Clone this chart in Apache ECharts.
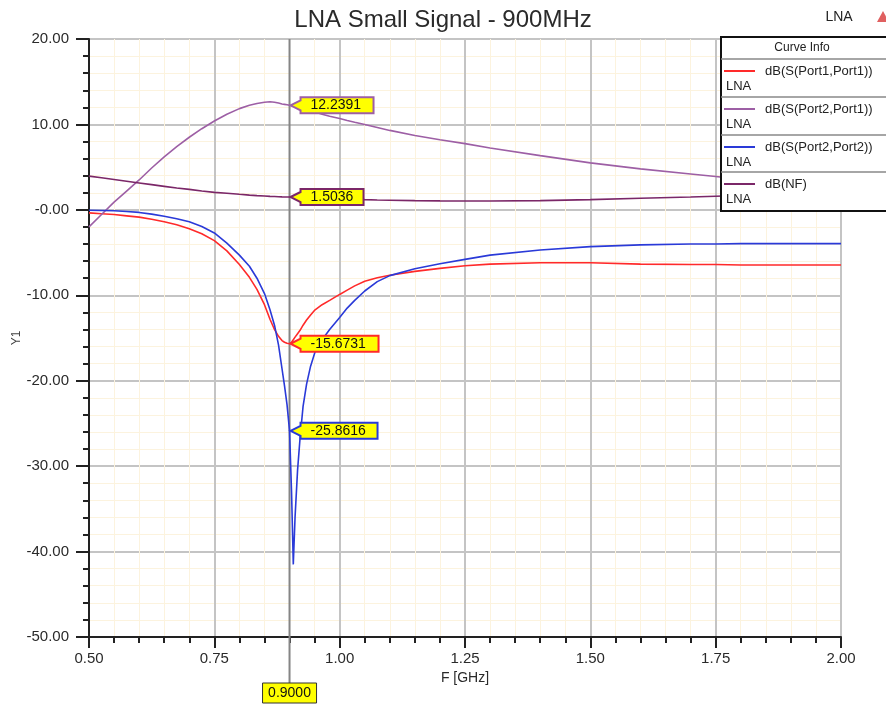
<!DOCTYPE html>
<html><head><meta charset="utf-8">
<script src="https://cdn.jsdelivr.net/npm/echarts@6/dist/echarts.min.js"></script>
<style>html,body{margin:0;padding:0;background:#fff}#c{width:886px;height:705px}</style>
</head><body><div id="c"></div>
<script>
// ---- data ----
const freq = [0.500,0.525,0.550,0.575,0.600,0.625,0.650,0.675,0.700,0.725,0.750,0.775,0.800,0.820,0.835,0.850,0.861,0.870,0.878,0.885,0.890,0.895,0.900,0.904,0.9075,0.911,0.916,0.921,0.927,0.934,0.942,0.951,0.965,0.980,1.000,1.015,1.030,1.050,1.075,1.100,1.150,1.200,1.250,1.300,1.400,1.500,1.600,1.700,1.750,1.800,1.900,2.000];
const s21 = [-2.0,-0.55,0.9,2.2,3.5,4.9,6.2,7.4,8.5,9.5,10.4,11.2,11.85,12.25,12.45,12.6,12.65,12.6,12.5,12.4,12.35,12.3,12.2391,12.2,12.15,12.1,12.02,11.95,11.85,11.75,11.6,11.45,11.2,10.95,10.7,10.45,10.25,10.0,9.65,9.3,8.7,8.2,7.75,7.25,6.35,5.5,4.8,4.2,3.9,3.6,3.1,2.7];
const nf  = [3.95,3.75,3.55,3.35,3.15,2.95,2.75,2.55,2.4,2.2,2.05,1.95,1.82,1.73,1.67,1.62,1.58,1.56,1.54,1.52,1.51,1.505,1.5036,1.5,1.5,1.49,1.48,1.47,1.46,1.45,1.43,1.41,1.38,1.35,1.3,1.27,1.24,1.2,1.16,1.13,1.08,1.05,1.03,1.03,1.08,1.2,1.35,1.5,1.6,1.68,1.8,1.9];
const s11 = [-0.35,-0.45,-0.55,-0.7,-0.85,-1.1,-1.4,-1.75,-2.2,-2.8,-3.6,-4.8,-6.4,-7.9,-9.3,-11.1,-12.8,-14.0,-14.8,-15.3,-15.5,-15.62,-15.6731,-15.5,-15.2,-14.9,-14.5,-14.1,-13.5,-12.9,-12.3,-11.7,-11.1,-10.6,-9.9,-9.4,-8.9,-8.35,-7.95,-7.65,-7.2,-6.85,-6.55,-6.35,-6.2,-6.2,-6.35,-6.4,-6.4,-6.45,-6.45,-6.45];
const s22 = [-0.05,-0.07,-0.1,-0.2,-0.3,-0.5,-0.75,-1.05,-1.4,-1.95,-2.7,-3.9,-5.3,-6.6,-8.0,-9.8,-11.7,-13.5,-15.8,-18.6,-20.6,-22.8,-25.8616,-33.0,-41.5,-36.0,-30.5,-26.7,-23.0,-20.4,-18.3,-16.6,-15.2,-14.0,-12.6,-11.5,-10.6,-9.5,-8.4,-7.7,-6.9,-6.3,-5.8,-5.3,-4.7,-4.3,-4.1,-4.0,-4.0,-3.95,-3.95,-3.95];
const seriesNames = ['dB(S(Port1,Port1))','dB(S(Port2,Port1))','dB(S(Port2,Port2))','dB(NF)'];
const markerFreq = 0.9;
const markerValues = [12.2391, 1.5036, -15.6731, -25.8616];
const markerTexts = ['12.2391','1.5036','-15.6731','-25.8616'];
const markerFreqText = '0.9000';

(function(){
const FONT = '"Liberation Sans", Arial, sans-serif';
const COLORS = {s11:'#ff2a2a', s21:'#9d5fa5', s22:'#2a3ad8', nf:'#7b2768'};
const zip = a => freq.map((f,i)=>[f,a[i]]);

const chart = echarts.init(document.getElementById('c'), null, {renderer:'canvas'});
const lineSeries = (name, data, color) => ({
  name, type:'line', data: zip(data), showSymbol:false, smooth:false,
  lineStyle:{color, width:1.6}, itemStyle:{color}, z:3, silent:true
});
chart.setOption({
  animation:false,
  textStyle:{fontFamily:FONT},
  title:{text:'LNA Small Signal - 900MHz', left:'center', top:3,
         textStyle:{fontFamily:FONT, fontSize:24, fontWeight:'normal', color:'#2a2a2a'}},
  grid:{left:89, right:45, top:39, bottom:68, show:true, borderColor:'#222', borderWidth:2,
        backgroundColor:'#fff', outerBoundsMode:'none', containLabel:false},
  xAxis:{type:'value', min:0.5, max:2.0, interval:0.25,
    name:'F [GHz]', nameLocation:'middle', nameGap:30,
    nameTextStyle:{fontFamily:FONT, fontSize:14, color:'#2a2a2a'},
    axisLine:{show:true, onZero:false, lineStyle:{color:'#222', width:2}},
    axisTick:{show:true, length:11, lineStyle:{color:'#222', width:2}},
    minorTick:{show:true, splitNumber:5, length:6, lineStyle:{color:'#222', width:2}},
    axisLabel:{margin:14, fontFamily:FONT, fontSize:15, color:'#2a2a2a', formatter:v=>v.toFixed(2)},
    splitLine:{show:true, lineStyle:{color:'#c4c4c4', width:2}},
    minorSplitLine:{show:true, lineStyle:{color:'#fcf3de', width:1}}
  },
  yAxis:{type:'value', min:-50, max:20, interval:10,
    name:'Y1', nameLocation:'middle', nameGap:66, nameMoveOverlap:false,
    nameTextStyle:{fontFamily:FONT, fontSize:12, color:'#444'},
    axisLine:{show:true, onZero:false, lineStyle:{color:'#222', width:2}},
    axisTick:{show:true, length:13, lineStyle:{color:'#222', width:2}},
    minorTick:{show:true, splitNumber:5, length:6, lineStyle:{color:'#222', width:2}},
    axisLabel:{margin:20, fontFamily:FONT, fontSize:15, color:'#2a2a2a',
      formatter:v=> Math.abs(v)<1e-9 ? '-0.00' : v.toFixed(2)},
    splitLine:{show:true, lineStyle:{color:'#c4c4c4', width:2}},
    minorSplitLine:{show:true, lineStyle:{color:'#fcf3de', width:1}}
  },
  series:[
    lineSeries(seriesNames[0], s11, COLORS.s11),
    lineSeries(seriesNames[1], s21, COLORS.s21),
    lineSeries(seriesNames[3], nf, COLORS.nf),
    lineSeries(seriesNames[2], s22, COLORS.s22)
  ]
});

const P = (x,y)=>chart.convertToPixel({gridIndex:0},[x,y]);
const plotTop = P(0.5,20)[1];
const mx = P(markerFreq,0)[0];
const g = [];
g.push({type:'line', z:2, silent:true, shape:{x1:mx,y1:plotTop,x2:mx,y2:683}, style:{stroke:'#858585', lineWidth:2}});
const mColors = [COLORS.s21, COLORS.nf, COLORS.s11, COLORS.s22];
const mWidths = [73, 63, 78, 77];
markerValues.forEach((v,i)=>{
  const [px,py] = P(markerFreq, v);
  const x0 = px+11, x1 = x0+mWidths[i];
  g.push({type:'polygon', z:50, silent:true,
    shape:{points:[[px+1,py],[x0,py-5],[x0,py-8],[x1,py-8],[x1,py+8],[x0,py+8],[x0,py+5]]},
    style:{fill:'#ffff00', stroke:mColors[i], lineWidth:2}});
  g.push({type:'text', z:51, silent:true, x:x0+10, y:py,
    style:{text:markerTexts[i], fontFamily:FONT, fontSize:14, fill:'#111', textVerticalAlign:'middle', textAlign:'left'}});
});
g.push({type:'rect', z:50, silent:true, shape:{x:mx-27,y:683,width:54,height:20}, style:{fill:'#ffff00', stroke:'#333', lineWidth:1}});
g.push({type:'text', z:51, silent:true, x:mx, y:693, style:{text:markerFreqText, fontFamily:FONT, fontSize:14, fill:'#111', textAlign:'center', textVerticalAlign:'middle'}});
g.push({type:'text', z:51, silent:true, x:839, y:17, style:{text:'LNA', fontFamily:FONT, fontSize:14, fill:'#222', textAlign:'center', textVerticalAlign:'middle'}});
g.push({type:'polygon', z:51, silent:true, shape:{points:[[877,22],[883,11],[889,22]]}, style:{fill:'#e06060'}});
const LX = 721, LY = 37, LW = 175;
g.push({type:'rect', z:60, silent:true, shape:{x:LX,y:LY,width:LW,height:174}, style:{fill:'#fff', stroke:'#111', lineWidth:2}});
g.push({type:'text', z:61, silent:true, x:802, y:48, style:{text:'Curve Info', fontFamily:FONT, fontSize:12, fill:'#222', textAlign:'center', textVerticalAlign:'middle'}});
const rowsTop = [59, 97, 135, 172];
const lColors = [COLORS.s11, COLORS.s21, COLORS.s22, COLORS.nf];
rowsTop.forEach((ry,i)=>{
  g.push({type:'line', z:61, silent:true, shape:{x1:LX,y1:ry,x2:LX+LW,y2:ry}, style:{stroke:'#888', lineWidth:1.5}});
  g.push({type:'line', z:61, silent:true, shape:{x1:724,y1:ry+12,x2:755,y2:ry+12}, style:{stroke:lColors[i], lineWidth:2}});
  g.push({type:'text', z:61, silent:true, x:765, y:ry+12, style:{text:seriesNames[i], fontFamily:FONT, fontSize:13, fill:'#222', textAlign:'left', textVerticalAlign:'middle'}});
  g.push({type:'text', z:61, silent:true, x:726, y:ry+27, style:{text:'LNA', fontFamily:FONT, fontSize:13, fill:'#222', textAlign:'left', textVerticalAlign:'middle'}});
});
chart.setOption({graphic:g});
})();
</script></body></html>
